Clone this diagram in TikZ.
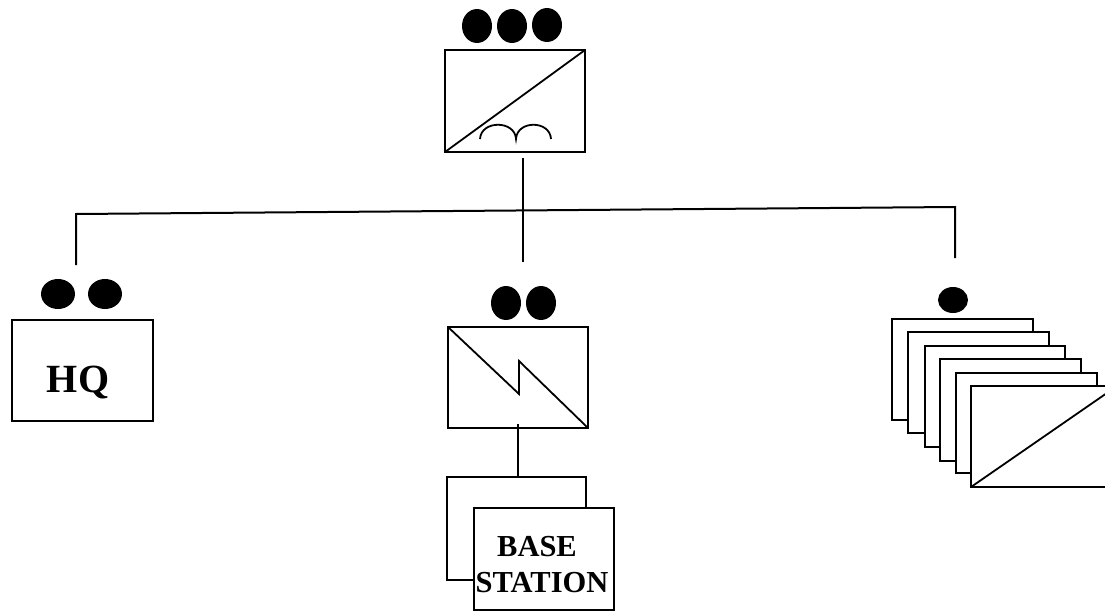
\documentclass[tikz,border=0pt]{standalone}
\usepackage{fontspec}
\setmainfont{Liberation Serif}
\tikzset{
  box/.style={draw=black,fill=white,line width=2pt,rectangle,inner sep=0pt,outer sep=0pt,anchor=north west,minimum width=#1},
  box/.default=140pt,
  dot/.style={fill=black,draw=none,ellipse,inner sep=0pt,minimum width=#1},
  dot/.default=30pt,
  wire/.style={line width=2pt,draw=black},
  thin wire/.style={line width=1.8pt,draw=black,line join=miter},
  label big/.style={font=\bfseries\fontsize{40}{40}\selectfont,inner sep=0pt,anchor=base},
  label small/.style={font=\bfseries\fontsize{30.5}{31}\selectfont,inner sep=0pt,anchor=base}
}
\usetikzlibrary{shapes.geometric}
\begin{document}
\begin{tikzpicture}[x=1pt,y=-1pt]
\useasboundingbox (0,0) rectangle (1105,613);
% top unit
\node[dot,minimum height=34pt] (d1) at (477,26) {};
\node[dot,minimum height=34pt] (d2) at (512,26) {};
\node[dot,minimum height=34pt] (d3) at (547,25) {};
\node[box,minimum height=102pt] (top) at (445,50) {};
\draw[thin wire] (top.south west) -- (top.north east);
\coordinate (a1) at (480,139);
\coordinate (a2) at (516,139);
\coordinate (a3) at (551,139);
\draw[thin wire] (a1) .. controls (481,120) and (515,120) .. (a2) .. controls (517,120) and (550,120) .. (a3);
% bus
\coordinate (t1) at (523,158);
\coordinate (t2) at (523,262);
\coordinate (bl) at (76,214);
\coordinate (br) at (955,207);
\coordinate (hqe) at (76,265);
\coordinate (ste) at (955,258);
\draw[wire] (t1) -- (t2);
\draw[wire] (hqe) -- (bl) -- (br) -- (ste);
% HQ
\node[dot=34pt,minimum height=30pt] (h1) at (58,294) {};
\node[dot=34pt,minimum height=30pt] (h2) at (105,294) {};
\node[box=141pt,minimum height=101pt] (hq) at (12,320) {};
\node[label big] (hqt) at (78,392) {HQ};
% middle unit
\node[dot,minimum height=34pt] (m1) at (506,303) {};
\node[dot,minimum height=34pt] (m2) at (541,303) {};
\node[box,minimum height=101pt] (mid) at (448,327) {};
\coordinate (z1) at (519,394);
\coordinate (z2) at (519,361);
\draw[thin wire] (mid.north west) -- (z1) -- (z2) -- (mid.south east);
\node[box=139pt,minimum height=103pt] (back) at (447,477) {};
\coordinate (c1) at (518,424);
\coordinate (c2) at (518,477);
\draw[wire] (c1) -- (c2);
\node[box,minimum height=102pt] (front) at (474,508) {};
\node[label small] (bt) at (537,556) {BASE};
\node[label small] (st) at (542,592) {STATION};
% right stack
\node[dot,minimum height=26pt] (s0) at (953,300) {};
\node[box=141pt,minimum height=101pt] (s1) at (892,319) {};
\node[box=141pt,minimum height=101pt] (s2) at (908,332) {};
\node[box=140pt,minimum height=101pt] (s3) at (925,346) {};
\node[box=141pt,minimum height=102pt] (s4) at (940,359) {};
\node[box=141pt,minimum height=100pt] (s5) at (956,373) {};
\node[box=141pt,minimum height=101pt] (s6) at (971,386) {};
\coordinate (s6e) at (1112,389.5);
\draw[thin wire] (s6.south west) -- (s6e);
\end{tikzpicture}
\end{document}
